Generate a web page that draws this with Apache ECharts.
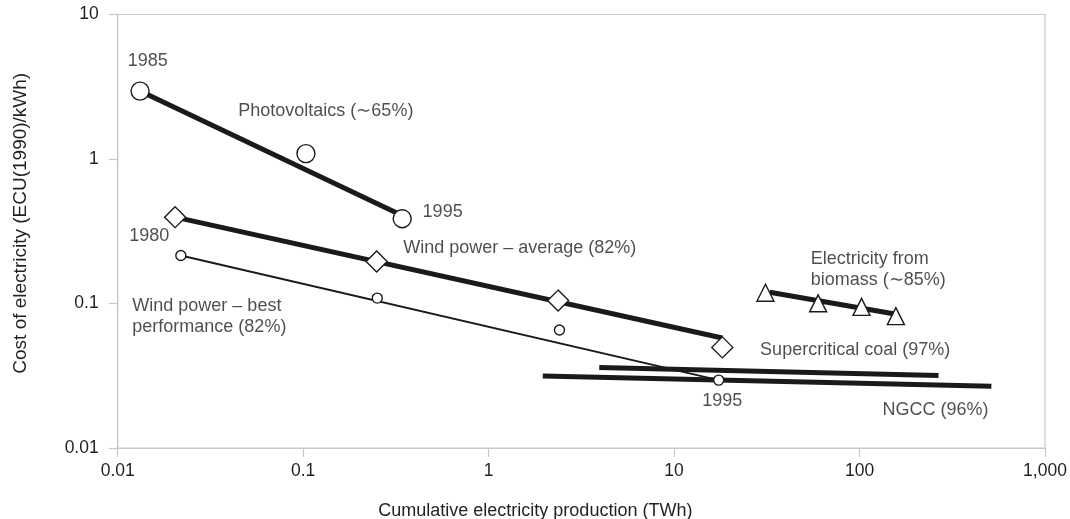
<!DOCTYPE html>
<html>
<head>
<meta charset="utf-8">
<script src="https://cdn.jsdelivr.net/npm/echarts@6/dist/echarts.min.js"></script>
<style>html,body{margin:0;padding:0;background:#fff}#c{width:1070px;height:519px}</style>
</head>
<body>
<div id="c"></div>
<script>
// Data (x: cumulative TWh, y: ECU(1990)/kWh)
var pvX = [0.0132, 0.1035, 0.342];
var pvY = [2.95, 1.09, 0.386];
var pvFitX = [0.0132, 0.324];
var pvFitY = [2.95, 0.42];

var windAvgX = [0.0204, 0.249, 2.37, 18.2];
var windAvgY = [0.396, 0.195, 0.1047, 0.0497];
var windAvgFitX = [0.0204, 18.2];
var windAvgFitY = [0.396, 0.0577];

var windBestX = [0.0219, 0.251, 2.41, 17.4];
var windBestY = [0.215, 0.109, 0.0656, 0.0295];
var windBestFitX = [0.0219, 17.4];
var windBestFitY = [0.215, 0.0295];

var biomassX = [31.1, 59.8, 102.5, 157];
var biomassY = [0.1187, 0.1003, 0.0948, 0.0818];
var biomassFitX = [32.8, 155];
var biomassFitY = [0.1196, 0.0847];

var coalX = [3.95, 266.6];
var coalY = [0.0361, 0.0318];
var ngccX = [1.96, 514];
var ngccY = [0.0315, 0.0268];

var xTickLabels = {"0.01": "0.01", "0.1": "0.1", "1": "1", "10": "10", "100": "100", "1000": "1,000"};
var yTickLabels = {"0.01": "0.01", "0.1": "0.1", "1": "1", "10": "10"};

var annotations = [
  {text: "1985", x: 0.01132, y: 4.76},
  {text: "Photovoltaics (\u223c65%)", x: 0.0447, y: 2.14},
  {text: "1995", x: 0.4406, y: 0.429},
  {text: "1980", x: 0.01155, y: 0.291},
  {text: "Wind power \u2013 average (82%)", x: 0.3464, y: 0.2415},
  {text: "Wind power \u2013 best\nperformance (82%)", x: 0.01199, y: 0.0807},
  {text: "Electricity from\nbiomass (\u223c85%)", x: 54.6, y: 0.1714},
  {text: "Supercritical coal (97%)", x: 29.1, y: 0.0477},
  {text: "1995", x: 14.2, y: 0.0210},
  {text: "NGCC (96%)", x: 133, y: 0.01824}
];

function zip(xs, ys) { return xs.map(function (x, i) { return [x, ys[i]]; }); }

var FONT = 'Liberation Sans, Arial, Helvetica, sans-serif';
var INK = '#1a1a1a';
var TEXT = '#231f20';
var FRAME = '#c8c8c8';

function fitLine(xs, ys, w) {
  return {type: 'line', data: zip(xs, ys), symbol: 'none', silent: true,
    lineStyle: {color: INK, width: w, cap: 'butt'}, z: 2};
}
function markers(xs, ys, sym, size) {
  return {type: 'scatter', data: zip(xs, ys), symbol: sym, symbolSize: size, silent: true,
    itemStyle: {color: '#fff', borderColor: INK, borderWidth: 1.4, opacity: 1}, z: 3};
}

var chart = echarts.init(document.getElementById('c'), null, {renderer: 'canvas'});
chart.setOption({
  animation: false,
  backgroundColor: '#fff',
  grid: {left: 117.7, right: 25, top: 14.5, bottom: 71, show: true, borderColor: FRAME, borderWidth: 1.2,
    containLabel: false, outerBoundsMode: 'none'},
  xAxis: {
    type: 'log', logBase: 10, min: 0.01, max: 1000,
    name: 'Cumulative electricity production (TWh)', nameLocation: 'middle', nameGap: 54,
    nameTextStyle: {fontFamily: FONT, fontSize: 18, color: TEXT, padding: [0, 92, 0, 0]},
    axisLine: {show: true, lineStyle: {color: FRAME, width: 1.2}},
    axisTick: {show: true, length: 9, lineStyle: {color: FRAME, width: 1.2}},
    minorTick: {show: false},
    splitLine: {show: false},
    axisLabel: {fontFamily: FONT, fontSize: 17.5, color: TEXT, margin: 14,
      formatter: function (v) { var k = String(+v.toPrecision(6)); return xTickLabels[k] !== undefined ? xTickLabels[k] : ''; }}
  },
  yAxis: {
    type: 'log', logBase: 10, min: 0.01, max: 10,
    name: 'Cost of electricity (ECU(1990)/kWh)', nameLocation: 'middle', nameGap: 87, nameRotate: 90,
    nameTextStyle: {fontFamily: FONT, fontSize: 19, color: TEXT, padding: [0, 0, 0, 16]},
    axisLine: {show: true, lineStyle: {color: FRAME, width: 1.2}},
    axisTick: {show: true, length: 9, lineStyle: {color: FRAME, width: 1.2}},
    splitLine: {show: false},
    axisLabel: {fontFamily: FONT, fontSize: 17.5, color: TEXT, margin: 19,
      formatter: function (v) { var k = String(+v.toPrecision(6)); return yTickLabels[k] !== undefined ? yTickLabels[k] : ''; }}
  },
  series: [
    fitLine(pvFitX, pvFitY, 5),
    fitLine(windAvgFitX, windAvgFitY, 5),
    fitLine(windBestFitX, windBestFitY, 2),
    fitLine(biomassFitX, biomassFitY, 5),
    fitLine(coalX, coalY, 5),
    fitLine(ngccX, ngccY, 5),
    markers(pvX, pvY, 'circle', 18),
    markers(windAvgX, windAvgY, 'diamond', 21),
    markers(windBestX, windBestY, 'circle', 10),
    markers(biomassX, biomassY, 'triangle', 17),
    {
      type: 'scatter', symbolSize: 0, silent: true, z: 4,
      data: annotations.map(function (a) { return {name: a.text, value: [a.x, a.y]}; }),
      label: {show: true, position: 'right', distance: 0, formatter: '{b}',
        fontFamily: FONT, fontSize: 18, color: TEXT, lineHeight: 21, align: 'left', verticalAlign: 'middle'}
    }
  ]
});
</script>
</body>
</html>
